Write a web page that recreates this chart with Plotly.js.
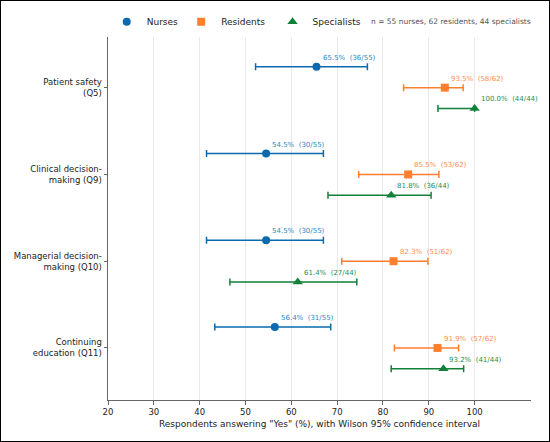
<!DOCTYPE html>
<html>
<head>
<meta charset="utf-8">
<script src="https://cdn.plot.ly/plotly-3.0.1.min.js"></script>
<style>
html,body{margin:0;padding:0;background:#fff;}
#wrap{width:550px;height:442px;box-sizing:border-box;border:1px solid #000;}
#chart{width:548px;height:440px;}
</style>
</head>
<body>
<div id="wrap"><div id="chart"></div></div>
<script>
// Categories (questions)
var categories = ["Patient safety<br>(Q5)", "Clinical decision-<br>making (Q9)", "Managerial decision-<br>making (Q10)", "Continuing<br>education (Q11)"];
var groups = ["Nurses", "Residents", "Specialists"];

// Percent answering "Yes"
var nursesPct = [65.5, 54.5, 54.5, 56.4];
var residentsPct = [93.5, 85.5, 82.3, 91.9];
var specialistsPct = [100.0, 81.8, 61.4, 93.2];

// Counts (yes / total)
var nursesYes = [36, 30, 30, 31];
var residentsYes = [58, 53, 51, 57];
var specialistsYes = [44, 36, 27, 41];
var nursesN = 55, residentsN = 62, specialistsN = 44;

// Wilson 95% CI bounds (%)
var nursesLo = [52.2, 41.5, 41.5, 43.3];
var nursesHi = [76.6, 67.0, 67.0, 68.6];
var residentsLo = [84.5, 74.7, 71.0, 82.5];
var residentsHi = [97.5, 92.2, 89.8, 96.5];
var specialistsLo = [92.0, 68.0, 46.6, 81.8];
var specialistsHi = [100.0, 90.5, 74.3, 97.6];

var colors = ["#0b6aad", "#ff7f2e", "#13803a"];
var labelColors = ["#2a88c8", "#ff8d4e", "#2a8c48"];
var symbols = ["circle", "square", "triangle-up"];
var sizes = [8, 8, 9];
var offsets = [-0.24, 0, 0.24];
var legendIds = ["legend", "legend2", "legend3"];
var legendX = [-0.003, 0.173, 0.389];

var pcts = [nursesPct, residentsPct, specialistsPct];
var yes = [nursesYes, residentsYes, specialistsYes];
var ns = [nursesN, residentsN, specialistsN];
var los = [nursesLo, residentsLo, specialistsLo];
var his = [nursesHi, residentsHi, specialistsHi];

var traces = [];
var annotations = [];
for (var g = 0; g < groups.length; g++) {
  var ys = categories.map(function(c, i){ return i + offsets[g]; });
  var plus = pcts[g].map(function(p, i){ return his[g][i] - p; });
  var minus = pcts[g].map(function(p, i){ return p - los[g][i]; });
  traces.push({
    type: "scatter", mode: "markers", name: groups[g], legend: legendIds[g],
    x: pcts[g], y: ys,
    marker: {color: colors[g], symbol: symbols[g], size: sizes[g], line: {width: 0}},
    error_x: {type: "data", symmetric: false, array: plus, arrayminus: minus,
              color: colors[g], thickness: 1.5, width: 3.5},
    hoverinfo: "skip"
  });
  for (var i = 0; i < categories.length; i++) {
    annotations.push({
      x: pcts[g][i], y: ys[i], xref: "x", yref: "y",
      text: pcts[g][i].toFixed(1) + "%\u00a0\u00a0(" + yes[g][i] + "/" + ns[g] + ")",
      showarrow: false, xanchor: "left", yanchor: "middle",
      xshift: 4, yshift: 9,
      font: {family: "DejaVu Sans", size: 7, color: labelColors[g]}
    });
  }
}
annotations.push({
  xref: "paper", yref: "paper", x: 0.616, y: 1.044,
  xanchor: "left", yanchor: "middle", showarrow: false,
  text: "n = " + nursesN + " nurses, " + residentsN + " residents, " + specialistsN + " specialists",
  font: {family: "DejaVu Sans", size: 7.5, color: "#555"}
});

function legendCfg(x) {
  return {orientation: "h", x: x, xanchor: "left", y: 1.042, yanchor: "middle",
          font: {family: "DejaVu Sans", size: 9, color: "#222"}, bgcolor: "rgba(0,0,0,0)"};
}

var layout = {
  width: 548, height: 440,
  margin: {l: 107, r: 18, t: 36, b: 41, autoexpand: false},
  paper_bgcolor: "#fff", plot_bgcolor: "#fff",
  font: {family: "DejaVu Sans", color: "#222"},
  showlegend: true,
  legend: legendCfg(legendX[0]),
  legend2: legendCfg(legendX[1]),
  legend3: legendCfg(legendX[2]),
  xaxis: {
    range: [20, 112.3], tickvals: [20,30,40,50,60,70,80,90,100],
    showgrid: true, gridcolor: "#e9e9e9", gridwidth: 1,
    zeroline: false, showline: true, linecolor: "#666", linewidth: 1,
    ticks: "outside", ticklen: 3.5, tickcolor: "#666",
    tickfont: {family: "DejaVu Sans", size: 8.5, color: "#222"},
    title: {text: "Respondents answering \"Yes\" (%), with Wilson 95% confidence interval",
            font: {family: "DejaVu Sans", size: 9, color: "#222"}, standoff: 4}
  },
  yaxis: {
    range: [3.6, -0.584], tickvals: [0,1,2,3], ticktext: categories,
    showgrid: false, zeroline: false, showline: true, linecolor: "#666", linewidth: 1,
    ticks: "outside", ticklen: 3.5, tickcolor: "#666",
    tickfont: {family: "DejaVu Sans", size: 8.5, color: "#222"}
  },
  annotations: annotations
};

Plotly.newPlot("chart", traces, layout, {displayModeBar: false, staticPlot: true});
</script>
</body>
</html>
